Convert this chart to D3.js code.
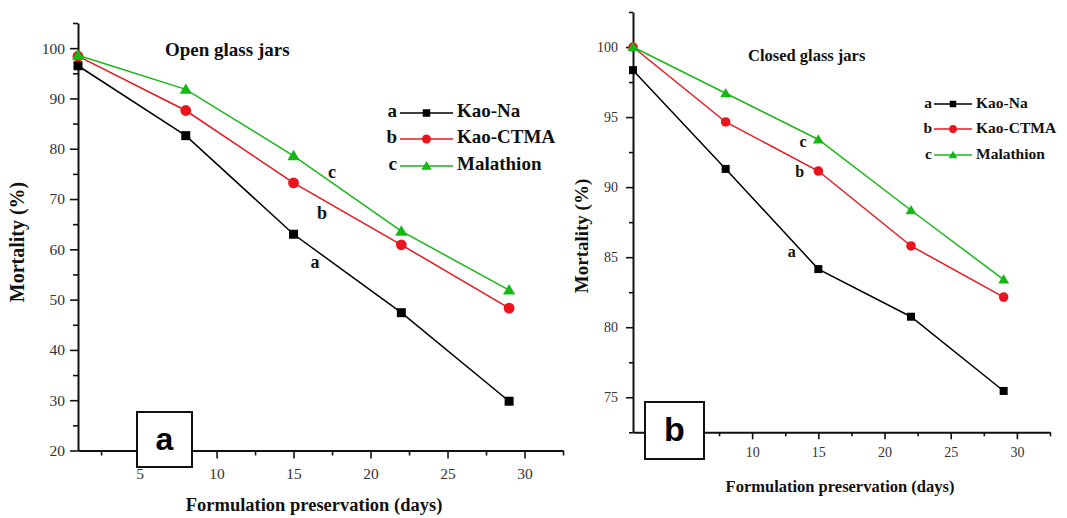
<!DOCTYPE html>
<html>
<head>
<meta charset="utf-8">
<script src="https://cdn.jsdelivr.net/npm/d3@7"></script>
<style>
  html, body { margin: 0; padding: 0; background: #fff; }
  svg { display: block; }
  svg text { font-family: "Liberation Serif", "DejaVu Serif", "Times New Roman", serif; }
  svg text.tag { font-family: "Liberation Sans", "DejaVu Sans", Arial, sans-serif; }
</style>
</head>
<body>
<svg id="chart" width="1067" height="518"></svg>
<script>
// Preservation days at which mortality was measured
const days = [1, 8, 15, 22, 29];

// Open glass jars – mortality (%)
const openKaoNa     = [96.5, 82.6, 63.0, 47.4, 29.8];
const openKaoCTMA   = [98.4, 87.6, 73.2, 60.9, 48.3];
const openMalathion = [98.6, 91.8, 78.6, 63.6, 51.9];

// Closed glass jars – mortality (%)
const closedKaoNa     = [98.35, 91.3, 84.15, 80.75, 75.45];
const closedKaoCTMA   = [100, 94.65, 91.15, 85.8, 82.15];
const closedMalathion = [100, 96.7, 93.4, 88.35, 83.4];

const seriesNames  = ["Kao-Na", "Kao-CTMA", "Malathion"];
const seriesLetters = ["a", "b", "c"];

// Axis ticks
const xMajorTicks = [5, 10, 15, 20, 25, 30];
const xMinorTicks = [2.5, 7.5, 12.5, 17.5, 22.5, 27.5, 32.5];
const openYMajor  = [20, 30, 40, 50, 60, 70, 80, 90, 100];
const openYMinor  = [25, 35, 45, 55, 65, 75, 85, 95, 105];
const closedYMajor = [75, 80, 85, 90, 95, 100];
const closedYMinor = [72.5, 77.5, 82.5, 87.5, 92.5, 97.5, 102.5];

// Significance letters placed beside the lines [letter, day, mortality]
const openLetters   = [["c", 17.5, 75.0], ["b", 16.85, 66.8], ["a", 16.4, 57.1]];
const closedLetters = [["c", 13.85, 93.15], ["b", 13.6, 91.0], ["a", 13.0, 85.3]];

const colors = ["#000000", "#e8161c", "#16b816"];

const svg = d3.select("#chart");

function drawPanel(p) {
  const g = svg.append("g");
  const x = d3.scaleLinear().domain([1, 32.5]).range([p.x0, p.x1]);
  const y = d3.scaleLinear().domain(p.yDomain).range([p.yBottom, p.yTop]);

  // minor ticks
  g.append("g").attr("transform", `translate(0,${p.yBottom})`)
    .call(d3.axisBottom(x).tickValues(xMinorTicks).tickSize(p.minorLen).tickFormat(""))
    .call(a => a.select(".domain").remove());
  g.append("g").attr("transform", `translate(${p.x0},0)`)
    .call(d3.axisLeft(y).tickValues(p.yMinor).tickSize(p.minorLen).tickFormat(""))
    .call(a => a.select(".domain").remove());

  // major ticks with labels
  g.append("g").attr("transform", `translate(0,${p.yBottom})`)
    .call(d3.axisBottom(x).tickValues(xMajorTicks).tickSize(p.majorLen).tickSizeOuter(0)
      .tickPadding(p.xPad).tickFormat(d3.format("d")));
  g.append("g").attr("transform", `translate(${p.x0},0)`)
    .call(d3.axisLeft(y).tickValues(p.yMajor).tickSize(p.majorLen).tickSizeOuter(0)
      .tickPadding(p.yPad).tickFormat(d3.format("d")));

  g.selectAll("g").attr("font-family", null);
  g.selectAll(".tick line").attr("stroke", "#111").attr("stroke-width", 1.6);
  g.selectAll(".domain").attr("stroke", "#111").attr("stroke-width", 2);
  g.selectAll(".tick text").attr("font-size", p.tickFont).attr("fill", "#333");

  // series lines and markers
  const line = d3.line().x((d, i) => x(days[i])).y(d => y(d));
  p.series.forEach((vals, s) => {
    g.append("path").datum(vals).attr("d", line)
      .attr("fill", "none").attr("stroke", colors[s]).attr("stroke-width", 1.5);
    const pts = g.append("g");
    vals.forEach((v, i) => drawMarker(pts, s, x(days[i]), y(v), p.markerSize));
  });

  // significance letters
  p.letters.forEach(([t, dx, dy]) => {
    g.append("text").attr("x", x(dx)).attr("y", y(dy))
      .attr("text-anchor", "middle").attr("dominant-baseline", "middle")
      .attr("font-weight", "bold")
      .attr("font-size", p.letterFont).attr("fill", "#111").text(t);
  });

  // panel title
  g.append("text").attr("x", p.titleX).attr("y", p.titleY)
    .attr("font-weight", "bold")
    .attr("font-size", p.titleFont).attr("fill", "#111")
    .attr("dominant-baseline", "middle").text(p.title);

  // legend
  p.legend.rows.forEach((ry, s) => {
    const lg = g.append("g");
    lg.append("text").attr("x", p.legend.letterX).attr("y", ry)
      .attr("text-anchor", "end").attr("dominant-baseline", "middle")
      .attr("font-weight", "bold")
      .attr("font-size", p.legend.font).attr("fill", "#111").text(seriesLetters[s]);
    lg.append("line").attr("x1", p.legend.lineX0).attr("x2", p.legend.lineX1)
      .attr("y1", ry).attr("y2", ry).attr("stroke", colors[s]).attr("stroke-width", 1.6);
    drawMarker(lg, s, (p.legend.lineX0 + p.legend.lineX1) / 2, ry, p.legend.markerSize);
    lg.append("text").attr("x", p.legend.textX).attr("y", ry)
      .attr("dominant-baseline", "middle")
      .attr("font-weight", "bold")
      .attr("font-size", p.legend.font).attr("fill", "#111").text(seriesNames[s]);
  });

  // axis titles
  g.append("text")
    .attr("transform", `translate(${p.yLabelX},${p.yLabelY}) rotate(-90)`)
    .attr("text-anchor", "middle").attr("dominant-baseline", "middle")
    .attr("font-weight", "bold")
    .attr("font-size", p.yLabelFont).attr("fill", "#111").text("Mortality (%)");
  g.append("text").attr("x", p.xLabelX).attr("y", p.xLabelY)
    .attr("text-anchor", "middle").attr("dominant-baseline", "middle")
    .attr("font-weight", "bold")
    .attr("font-size", p.xLabelFont).attr("fill", "#111")
    .text("Formulation preservation (days)");

  // panel tag box
  const b = p.box;
  g.append("rect").attr("x", b.x).attr("y", b.y).attr("width", b.w).attr("height", b.h)
    .attr("fill", "#fff").attr("stroke", "#111").attr("stroke-width", 2);
  g.append("text").attr("class", "tag")
    .attr("x", b.x + b.w / 2).attr("y", b.y + b.h / 2 + 2)
    .attr("text-anchor", "middle").attr("dominant-baseline", "middle")
    .attr("font-weight", "bold")
    .attr("font-size", b.font).attr("fill", "#000").text(b.label);
}

function drawMarker(sel, s, cx, cy, size) {
  if (s === 0) {
    sel.append("rect").attr("x", cx - size / 2).attr("y", cy - size / 2)
      .attr("width", size).attr("height", size).attr("fill", colors[0]);
  } else if (s === 1) {
    sel.append("circle").attr("cx", cx).attr("cy", cy).attr("r", size * 0.6)
      .attr("fill", colors[1]);
  } else {
    const h = size * 1.1;
    sel.append("path")
      .attr("d", `M${cx},${cy - h * 0.6} L${cx + h * 0.62},${cy + h * 0.45} L${cx - h * 0.62},${cy + h * 0.45} Z`)
      .attr("fill", colors[2]);
  }
}

drawPanel({
  x0: 78, x1: 563, yTop: 23, yBottom: 450.5, yDomain: [20, 105],
  yMajor: openYMajor, yMinor: openYMinor,
  majorLen: 8, minorLen: 5, xPad: 9, yPad: 5, tickFont: 15.5,
  series: [openKaoNa, openKaoCTMA, openMalathion], markerSize: 9,
  letters: openLetters, letterFont: 18,
  title: "Open glass jars", titleX: 165, titleY: 52, titleFont: 19,
  legend: { rows: [113, 139, 166], letterX: 397, lineX0: 400, lineX1: 453, textX: 457,
            font: 19, markerSize: 7.5 },
  yLabelX: 19, yLabelY: 242, yLabelFont: 20,
  xLabelX: 314, xLabelY: 507, xLabelFont: 18.5,
  box: { x: 137, y: 412, w: 55, h: 55, label: "a", font: 32 }
});

drawPanel({
  x0: 633, x1: 1050, yTop: 12, yBottom: 432.3, yDomain: [72.5, 102.5],
  yMajor: closedYMajor, yMinor: closedYMinor,
  majorLen: 7, minorLen: 4, xPad: 8, yPad: 8, tickFont: 14,
  series: [closedKaoNa, closedKaoCTMA, closedMalathion], markerSize: 8,
  letters: closedLetters, letterFont: 16,
  title: "Closed glass jars", titleX: 748, titleY: 57, titleFont: 16.5,
  legend: { rows: [104, 129, 155], letterX: 932, lineX0: 934, lineX1: 972, textX: 976,
            font: 15.5, markerSize: 6.5 },
  yLabelX: 584, yLabelY: 236, yLabelFont: 19,
  xLabelX: 840, xLabelY: 488, xLabelFont: 16.5,
  box: { x: 645, y: 402, w: 59, h: 57, label: "b", font: 34 }
});
</script>
</body>
</html>
